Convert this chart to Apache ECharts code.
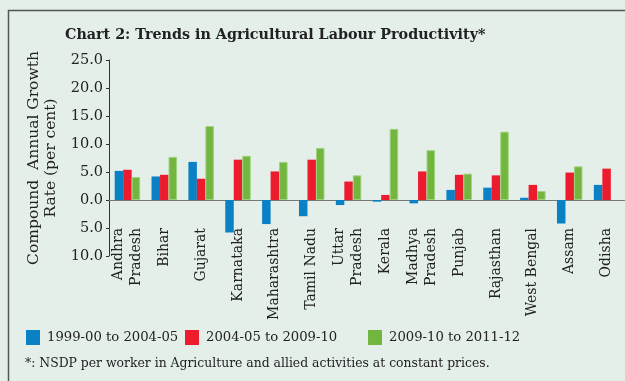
<!DOCTYPE html>
<html>
<head>
<meta charset="utf-8">
<script src="https://cdn.jsdelivr.net/npm/echarts@6/dist/echarts.min.js"></script>
<style>
  html, body { margin: 0; padding: 0; background: #e5efe9; }
  #chart { width: 625px; height: 381px; }
</style>
</head>
<body>
<div id="chart"></div>
<script>
// states on the x axis
const states = ['Andhra\nPradesh', 'Bihar', 'Gujarat', 'Karnataka', 'Maharashtra', 'Tamil Nadu', 'Uttar\nPradesh',
  'Kerala', 'Madhya\nPradesh', 'Punjab', 'Rajasthan', 'West Bengal', 'Assam', 'Odisha']

// compound annual growth rate, per cent
const period1 = [5.2, 4.2, 6.8, -5.8, -4.3, -2.9, -0.9, -0.3, -0.6, 1.8, 2.2, 0.4, -4.2, 2.7]
const period2 = [5.4, 4.5, 3.8, 7.2, 5.1, 7.2, 3.3, 0.9, 5.1, 4.5, 4.4, 2.7, 4.9, 5.6]
const period3 = [4.1, 7.7, 13.2, 7.9, 6.8, 9.3, 4.4, 12.7, 8.9, 4.7, 12.2, 1.6, 6.0, null]

const seriesNames = ['1999-00 to 2004-05', '2004-05 to 2009-10', '2009-10 to 2011-12']

const font = 'DejaVu Serif'
const chart = echarts.init(document.getElementById('chart'))

const legendBase = {
  top: 325,
  itemWidth: 14,
  itemHeight: 15,
  itemGap: 0,
  icon: 'rect',
  itemStyle: { borderWidth: 0 },
  textStyle: { fontFamily: font, fontSize: 13.2, color: '#222', padding: [0, 0, 0, 2] }
}

const option = {
  backgroundColor: '#e5efe9',
  title: [
    {
      text: 'Chart 2: Trends in Agricultural Labour Productivity*',
      left: 60,
      top: 23,
      textStyle: { fontFamily: font, fontSize: 14.3, fontWeight: 'bold', color: '#222' }
    },
    {
      text: '*: NSDP per worker in Agriculture and allied activities at constant prices.',
      left: 20,
      top: 353,
      textStyle: { fontFamily: font, fontSize: 12.4, fontWeight: 'normal', color: '#222' }
    }
  ],
  legend: [
    Object.assign({}, legendBase, { left: 21, data: [seriesNames[0]] }),
    Object.assign({}, legendBase, { left: 180, data: [seriesNames[1]] }),
    Object.assign({}, legendBase, { left: 363, data: [seriesNames[2]] })
  ],
  grid: { left: 109, right: 0, top: 60, bottom: 125 },
  xAxis: {
    type: 'category',
    data: states,
    axisLine: { lineStyle: { color: '#777', width: 1 } },
    axisTick: { length: 3, lineStyle: { color: '#555' } },
    axisLabel: {
      rotate: 90,
      margin: -28,
      interval: 0,
      fontFamily: font,
      fontSize: 14,
      lineHeight: 18,
      color: '#222'
    }
  },
  yAxis: {
    type: 'value',
    min: -10,
    max: 25,
    interval: 5,
    name: 'Compound  Annual Growth\nRate (per cent)',
    nameLocation: 'middle',
    nameGap: 43,
    nameTextStyle: { fontFamily: font, fontSize: 15.5, lineHeight: 17, color: '#222' },
    axisLine: { show: true, lineStyle: { color: '#333' } },
    axisTick: { show: true, length: 3, lineStyle: { color: '#333' } },
    splitLine: { show: false },
    axisLabel: {
      margin: 6,
      fontFamily: font,
      fontSize: 14.5,
      color: '#222',
      formatter: v => Math.abs(v).toFixed(1)
    }
  },
  series: [
    {
      name: seriesNames[0],
      type: 'bar',
      data: period1,
      barWidth: 8.5,
      barGap: 0,
      itemStyle: { color: '#0a80c5' }
    },
    {
      name: seriesNames[1],
      type: 'bar',
      data: period2,
      barWidth: 8.5,
      barGap: 0,
      itemStyle: { color: '#ec1c2e' }
    },
    {
      name: seriesNames[2],
      type: 'bar',
      data: period3,
      barWidth: 8.5,
      barGap: 0,
      itemStyle: { color: '#72b53f', borderColor: '#9fd27e', borderWidth: 1 }
    }
  ],
  graphic: [
    {
      type: 'polyline',
      shape: { points: [[8.5, 381], [8.5, 10.5], [625, 10.5]] },
      style: { stroke: '#555', lineWidth: 1.5, fill: null }
    }
  ]
}

chart.setOption(option)
</script>
</body>
</html>
